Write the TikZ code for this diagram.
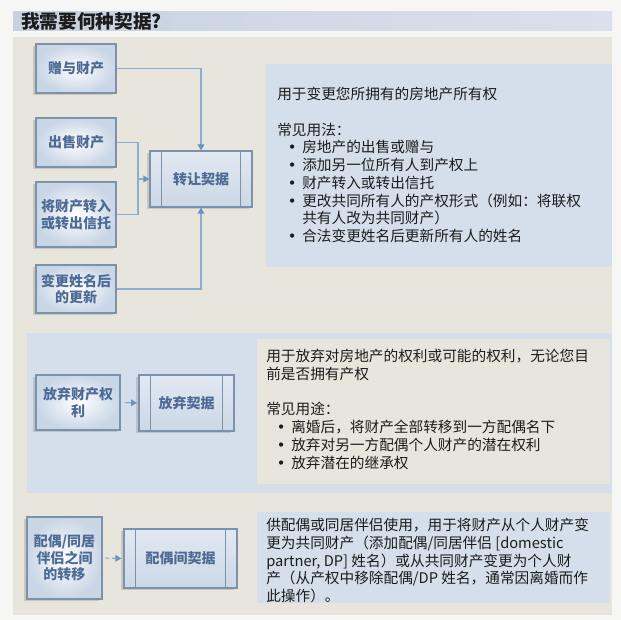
\documentclass[tikz,border=0pt]{standalone}
\usepackage{fontspec}
\setmainfont{Noto Sans CJK SC}
\newfontfamily\dotfont{DejaVu Sans}
\usetikzlibrary{arrows.meta,shadows}
\definecolor{paper}{HTML}{F6F6F4}
\definecolor{sand}{HTML}{E8E6DC}
\definecolor{mist}{HTML}{D5DFEB}
\definecolor{barleft}{HTML}{C8D2DF}
\definecolor{barright}{HTML}{D9E1EC}
\definecolor{frame}{HTML}{7B91AC}
\definecolor{boxblue}{HTML}{C9D6E6}
\definecolor{label}{HTML}{4D6B95}
\definecolor{wire}{HTML}{8AAECD}
\definecolor{tip}{HTML}{6496C2}
\definecolor{ink}{HTML}{1C1C1C}
\newcommand\itemdot{\hspace*{8pt}\makebox[10.75pt][l]{\dotfont •}}

\begin{document}
\begin{tikzpicture}[x=0.75pt, y=-0.75pt,
    source/.style={draw=frame, line width=0.9pt, inner color=white, outer color=boxblue,
                   text=label, font=\fontsize{10.5}{12.5}\selectfont\bfseries, align=center, inner sep=0pt,
                   drop shadow={shadow xshift=-2.5pt, shadow yshift=-1.5pt, opacity=0.3}},
    deed/.style={source, top color=boxblue!55, bottom color=boxblue!95},
    rail/.style={draw=frame, line width=0.9pt},
    link/.style={draw=wire, line width=0.9pt},
    flow/.style={link, -{Triangle[length=4.5pt, width=5pt, color=tip]}},
    blurb/.style={anchor=north west, inner sep=0pt, align=left, text=ink, font=\fontsize{11}{13.3}\selectfont}]
\fill[paper] (0,0) rectangle (621,620);
\shade[left color=barleft, right color=barright] (13,12) rectangle (612,31);
\fill[sand] (13,37) rectangle (612,615);
\fill[mist] (266,64) rectangle (612,267);
\fill[mist] (27,333) rectangle (612,493);
\fill[sand] (257,339) rectangle (610,484);
\fill[mist] (257,512) rectangle (610,603);
\node[anchor=west, inner sep=0pt, text=ink, font=\fontsize{14}{16}\selectfont\bfseries] (title) at (21,21.5) {我需要何种契据?};

\node[source, minimum width=60pt, minimum height=36.75pt] (gift)   at (76,68.5)  {赠与财产};
\node[source, minimum width=60pt, minimum height=36.75pt] (sell)   at (76,142.5) {出售财产};
\node[source, minimum width=60pt, minimum height=48.75pt] (trust)  at (76,214.5) {将财产转入\\或转出信托};
\node[source, minimum width=60pt, minimum height=36pt]    (rename) at (76,289)   {变更姓名后\\的更新};
\node[deed, minimum width=76.5pt, minimum height=42pt]    (grant)  at (201,179)  {转让契据};
\node[source, minimum width=63pt, minimum height=41.25pt] (quitsrc)  at (78,402.5)  {放弃财产权\\利};
\node[deed, minimum width=71.25pt, minimum height=42pt]   (quit)     at (186.5,403) {放弃契据};
\node[source, minimum width=56.25pt, minimum height=61.5pt] (spouse) at (64.5,558)  {配偶/同居\\伴侣之间\\的转移};
\node[deed, minimum width=84.75pt, minimum height=44.25pt] (inter)   at (180.5,558.5) {配偶间契据};

\draw[rail] ([xshift=9pt]grant.north west) -- ([xshift=9pt]grant.south west)
            ([xshift=-9pt]grant.north east) -- ([xshift=-9pt]grant.south east);
\draw[rail] ([xshift=9pt]quit.north west) -- ([xshift=9pt]quit.south west)
            ([xshift=-9pt]quit.north east) -- ([xshift=-9pt]quit.south east);
\draw[rail] ([xshift=9pt]inter.north west) -- ([xshift=9pt]inter.south west)
            ([xshift=-9pt]inter.north east) -- ([xshift=-9pt]inter.south east);

\coordinate (merge) at (138,179);
\draw[flow] (gift.east) -| (grant.north);
\draw[flow] (rename.east) -| (grant.south);
\draw[link] (sell.east) -| (merge) |- (trust.east);
\draw[flow] (merge) -- (grant.west);
\draw[flow, dash pattern=on 5pt off 2pt, shorten <=3pt, shorten >=1pt] (quitsrc.east) -- (quit.west);
\draw[flow, dash pattern=on 3pt off 2pt, shorten <=2pt, shorten >=1.5pt] (spouse.east) -- (inter.west);

\node[blurb] (grantnote) at (277,87) {用于变更您所拥有的房地产所有权\\[13.3pt]
  常见用法：\\
  \itemdot 房地产的出售或赠与\\
  \itemdot 添加另一位所有人到产权上\\
  \itemdot 财产转入或转出信托\\
  \itemdot 更改共同所有人的产权形式（例如：将联权\\
  \hspace*{18.75pt}共有人改为共同财产）\\
  \itemdot 合法变更姓名后更新所有人的姓名};
\node[blurb] (quitnote) at (266,349) {用于放弃对房地产的权利或可能的权利，无论您目\\
  前是否拥有产权\\[13.3pt]
  常见用途：\\
  \itemdot 离婚后，将财产全部转移到一方配偶名下\\
  \itemdot 放弃对另一方配偶个人财产的潜在权利\\
  \itemdot 放弃潜在的继承权};
\node[blurb] (internote) at (266,518) {供配偶或同居伴侣使用，用于将财产从个人财产变\\
  更为共同财产（添加配偶/同居伴侣 [domestic\\
  partner, DP] 姓名）或从共同财产变更为个人财\\
  产（从产权中移除配偶/DP 姓名，通常因离婚而作\\
  此操作）。};
\end{tikzpicture}
\end{document}
